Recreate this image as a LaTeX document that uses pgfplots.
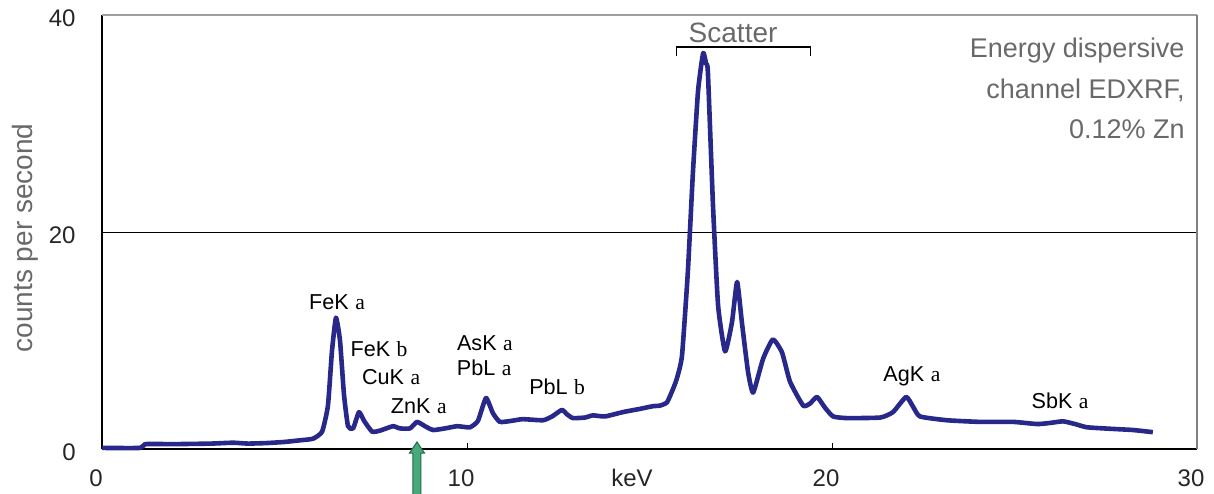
\documentclass[border=0pt]{standalone}
\usepackage{pgfplots}
\pgfplotsset{compat=1.18}
\usepackage{fontspec}
\setmainfont{Liberation Sans}
\newfontfamily\greekfont{Liberation Serif}

\definecolor{spec}{RGB}{40,40,138}
\definecolor{labgray}{RGB}{105,105,105}
\definecolor{arrfill}{RGB}{72,170,120}
\definecolor{arrline}{RGB}{35,105,75}

% line name with the Greek subscript set as a serif letter
\newcommand{\lin}[2]{#1\hspace{0.3em}{\greekfont #2}}

\pgfplotstableread{
kev cps
0     0.1
1.05  0.1
1.18  0.45
2.0   0.45
3.0   0.5
3.59  0.58
4.0   0.5
4.52  0.55
5.0   0.65
5.42  0.8
5.78  0.95
6.03  1.6
6.19  4.0
6.30  9.0
6.41  12.1
6.52  10.0
6.63  5.0
6.74  2.1
6.88  1.9
7.04  3.4
7.18  2.6
7.40  1.6
7.62  1.7
7.97  2.1
8.16  1.9
8.44  1.9
8.63  2.5
8.85  2.1
9.07  1.75
9.40  1.9
9.73  2.1
10.08 2.0
10.30 2.6
10.52 4.7
10.71 3.3
10.90 2.5
11.23 2.6
11.53 2.75
12.08 2.65
12.33 3.0
12.60 3.6
12.74 3.2
12.90 2.85
13.23 2.9
13.45 3.1
13.78 3.0
14.27 3.4
14.74 3.7
15.10 3.95
15.29 4.0
15.48 4.3
15.64 5.5
15.75 6.5
15.89 8.6
16.05 16.3
16.19 25.5
16.33 33.0
16.47 36.5
16.55 35.5
16.60 34.7
16.74 22.4
16.88 13.2
17.07 9.0
17.26 11.7
17.40 15.4
17.53 11.7
17.70 7.1
17.84 5.2
18.11 8.3
18.38 10.1
18.63 8.9
18.85 6.2
19.21 4.0
19.40 4.2
19.59 4.8
19.81 3.8
20.03 3.0
20.41 2.85
21.32 2.9
21.67 3.4
22.03 4.8
22.22 3.9
22.41 3.0
23.15 2.65
24.05 2.5
24.96 2.5
25.62 2.3
25.97 2.4
26.33 2.55
26.66 2.3
26.99 2.0
27.70 1.85
28.25 1.75
28.79 1.55
}\spectrum

\begin{document}
\begin{tikzpicture}
\useasboundingbox (-51pt,-22pt) rectangle (556pt,224.5pt);
\begin{axis}[
    scale only axis,
    width=547.5pt, height=217pt,
    xmin=0, xmax=30, ymin=0, ymax=40,
    axis lines*=left,
    axis line style={-, black, line width=0.7pt},
    xtick={0,10,20,30}, ytick={0,20,40},
    tick align=inside, major tick length=3pt,
    tick style={black, line width=0.5pt},
    /pgf/number format/assume math mode=true,
    ticklabel style={font=\fontsize{12}{14}\selectfont, text=black!85, inner sep=0pt},
    xticklabel style={anchor=base, yshift=-18.5pt, xshift=-3pt},
    yticklabel style={anchor=east, xshift=-13pt, yshift=-1.5pt},
    clip=false,
]
\draw[black, line width=0.5pt] (axis cs:0,20) -- (axis cs:30,20);
\draw[gray!75, line width=1.3pt] (rel axis cs:0,1) -- (rel axis cs:1,1);
\draw[gray, line width=0.7pt] (rel axis cs:1,1) -- (rel axis cs:1,0);

\addplot[spec, line width=2.3pt, smooth, tension=0.3, line join=round] table[x=kev, y=cps] {\spectrum};

% peak labels
\begin{scope}[every node/.style={anchor=base, font=\fontsize{10.8}{12}\selectfont, inner sep=0pt}]
\node at (axis cs:6.44,12.9)  {\lin{FeK}{a}};
\node at (axis cs:7.59,8.48)  {\lin{FeK}{b}};
\node at (axis cs:7.92,5.99)  {\lin{CuK}{a}};
\node at (axis cs:8.68,3.23)  {\lin{ZnK}{a}};
\node at (axis cs:10.49,9.12) {\lin{AsK}{a}};
\node at (axis cs:10.47,6.82) {\lin{PbL}{a}};
\node at (axis cs:12.47,4.98) {\lin{PbL}{b}};
\node at (axis cs:22.19,6.18) {\lin{AgK}{a}};
\node at (axis cs:26.25,3.69) {\lin{SbK}{a}};
\end{scope}

% scatter bracket
\draw[black, line width=0.6pt] (axis cs:15.75,36.2) |- (axis cs:19.42,37.05) -- (axis cs:19.42,36.2);
\node[anchor=base, inner sep=0pt, text=labgray, font=\fontsize{14}{16}\selectfont] at (axis cs:17.29,37.51) {Scatter};

% description
\begin{scope}[every node/.style={anchor=base east, inner sep=0pt, text=labgray, font=\fontsize{13.5}{16}\selectfont}]
\node at (axis cs:29.67,36.04) {Energy dispersive};
\node at (axis cs:29.67,32.35) {channel EDXRF,};
\node at (axis cs:29.67,28.66) {0.12\% Zn};
\end{scope}

% axis titles
\node[anchor=base, inner sep=0pt, font=\fontsize{12}{14}\selectfont, text=black!85] at ([yshift=-18.5pt]axis cs:14.52,0) {keV};
\node[rotate=90, inner sep=0pt, text=labgray, font=\fontsize{14}{16}\selectfont] at ([xshift=-38.5pt]axis cs:0,19.45) {counts per second};

% ZnK marker arrow
\filldraw[fill=arrfill, draw=arrline, line width=0.5pt]
  ([shift={(-2pt,-26pt)}]axis cs:8.63,0) -- ([shift={(-2pt,-2pt)}]axis cs:8.63,0)
  -- ([shift={(-3.75pt,-2pt)}]axis cs:8.63,0) -- ([shift={(0pt,3.5pt)}]axis cs:8.63,0)
  -- ([shift={(3.75pt,-2pt)}]axis cs:8.63,0) -- ([shift={(2pt,-2pt)}]axis cs:8.63,0)
  -- ([shift={(2pt,-26pt)}]axis cs:8.63,0) -- cycle;
\end{axis}
\end{tikzpicture}
\end{document}
